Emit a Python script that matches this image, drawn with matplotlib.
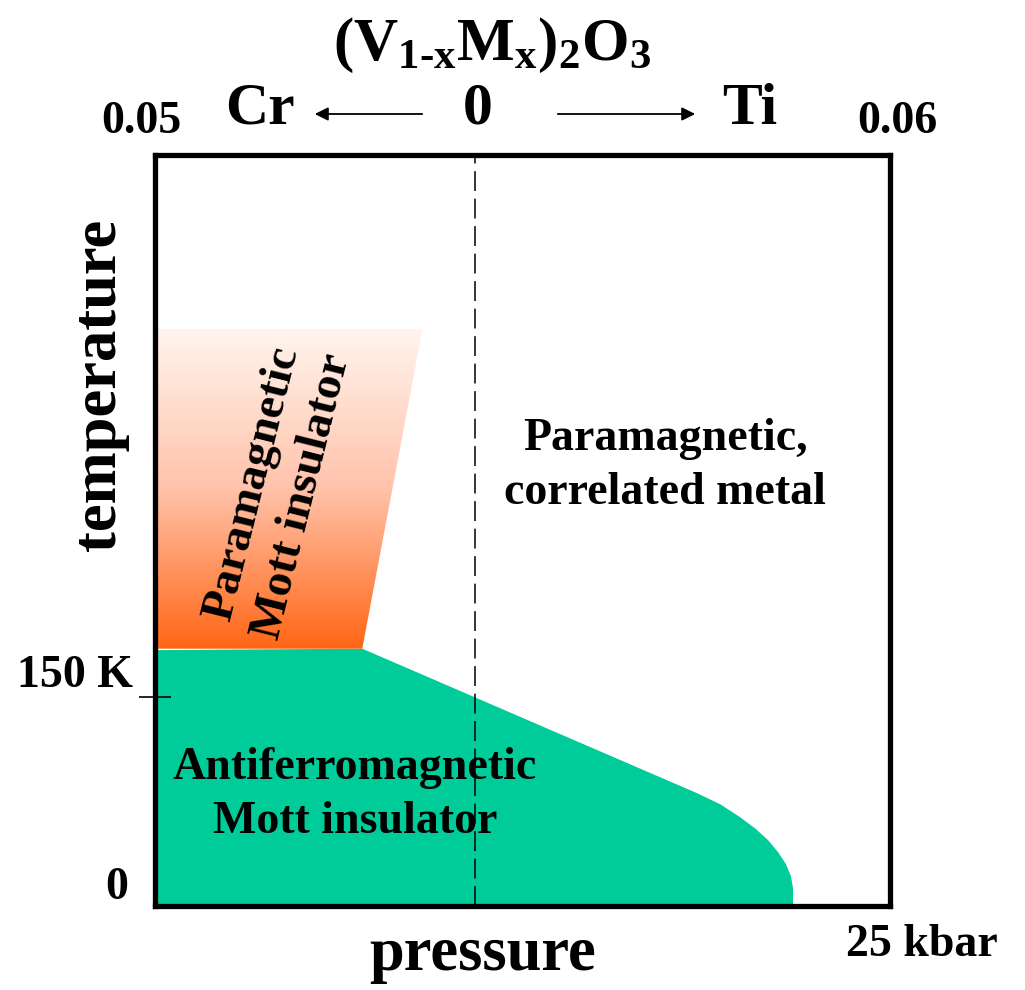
import matplotlib
matplotlib.use('Agg')
import matplotlib.pyplot as plt
import numpy as np
from matplotlib.patches import Polygon, FancyArrowPatch
from matplotlib.colors import LinearSegmentedColormap

plt.rcParams['font.family'] = 'serif'
plt.rcParams['font.serif'] = ['Liberation Serif', 'DejaVu Serif']
plt.rcParams['font.weight'] = 'bold'
plt.rcParams['mathtext.fontset'] = 'custom'
plt.rcParams['mathtext.rm'] = 'Liberation Serif:bold'
plt.rcParams['mathtext.it'] = 'Liberation Serif:bold'
plt.rcParams['mathtext.bf'] = 'Liberation Serif:bold'

# Datos (presion en kbar, temperatura en K)
afm_p = [0, 7.05, 18.44, 19.22, 19.9, 20.44, 20.85, 21.19, 21.46, 21.63, 21.7, 21.7]
afm_T = [184, 185, 81.1, 73.2, 63.9, 55.3, 47.4, 38.8, 30.1, 21.5, 12.9, 0]

pmi_p = [0, 9.1, 7.05, 0]
pmi_T = [415, 415, 185, 185]

x_dashed = 10.9
p_max = 25
T_max = 540
T_ticks = [150]

W, H = 1025, 990
fig = plt.figure(figsize=(W / 100, H / 100), dpi=100)
ax = fig.add_axes([155 / W, (H - 906) / H, 735 / W, 751 / H])
ax.set_xlim(0, p_max)
ax.set_ylim(0, T_max)

# Region AFM (verde)
ax.fill(afm_p + [0], afm_T + [0], color='#00CC99', lw=0, zorder=1)

# Region PM Mott insulator (degradado)
poly = Polygon(np.column_stack([pmi_p, pmi_T]), closed=True, facecolor='none',
               edgecolor='none', zorder=2)
ax.add_patch(poly)
cmap = LinearSegmentedColormap.from_list('pm', ['#FFF5EE', '#FFC2AA', '#FF6615'])
grad = np.linspace(0, 1, 256).reshape(-1, 1)
im = ax.imshow(grad, cmap=cmap, aspect='auto', origin='upper',
               extent=[min(pmi_p), max(pmi_p), min(pmi_T), max(pmi_T)], zorder=2)
im.set_clip_path(poly)

# Linea discontinua x = 0
ax.axvline(x_dashed, color='black', lw=1.1, ls=(0, (13, 5)), zorder=3)

# Ejes
for s in ax.spines.values():
    s.set_linewidth(3.8)
    s.set_zorder(5)
ax.set_xticks([])
ax.set_yticks(T_ticks)
ax.set_yticklabels([])
ax.tick_params(axis='y', direction='inout', length=23, width=1.2, color='black')
ax.set_xlim(0, p_max)
ax.set_ylim(0, T_max)


def ftext(x, y, s, **kw):
    fig.text(x / W, 1 - y / H, s, **kw)


# Etiquetas de regiones
ftext(355, 795, 'Antiferromagnetic\nMott insulator', fontsize=33, ha='center',
      va='center', linespacing=1.35, zorder=6)
ftext(665, 466, 'Paramagnetic,\ncorrelated metal', fontsize=33, ha='center',
      va='center', linespacing=1.35)
ftext(278, 490, 'Paramagnetic\nMott insulator', fontsize=34, ha='center',
      va='center', rotation=76, linespacing=1.3, rotation_mode='anchor')

# Etiquetas de ejes
ftext(483, 955, 'pressure', fontsize=45, ha='center', va='center')
ftext(100, 385, 'temperature', fontsize=45, ha='center', va='center', rotation=90)
ftext(922, 945, '25 kbar', fontsize=33, ha='center', va='center')
ftext(133, 676, '150 K', fontsize=33, ha='right', va='center')
ftext(117, 888, '0', fontsize=33, ha='center', va='center')

# Cabecera
ftext(492, 45, r'$\mathrm{(V_{1\text{-}x}M_x)_2O_3}$', fontsize=44, ha='center',
      va='center')
ftext(260, 110, 'Cr', fontsize=43, ha='center', va='center')
ftext(478, 110, '0', fontsize=43, ha='center', va='center')
ftext(750, 110, 'Ti', fontsize=43, ha='center', va='center')
ftext(141, 122, '0.05', fontsize=33, ha='center', va='center')
ftext(897, 122, '0.06', fontsize=33, ha='center', va='center')

for (x1, x2) in [(425, 312), (555, 698)]:
    arr = FancyArrowPatch((x1 / W, 1 - 114 / H), (x2 / W, 1 - 114 / H),
                          transform=fig.transFigure, arrowstyle='-|>',
                          mutation_scale=20, lw=1.3, color='black')
    fig.add_artist(arr)

fig.savefig('out.png', dpi=100, facecolor='white')
